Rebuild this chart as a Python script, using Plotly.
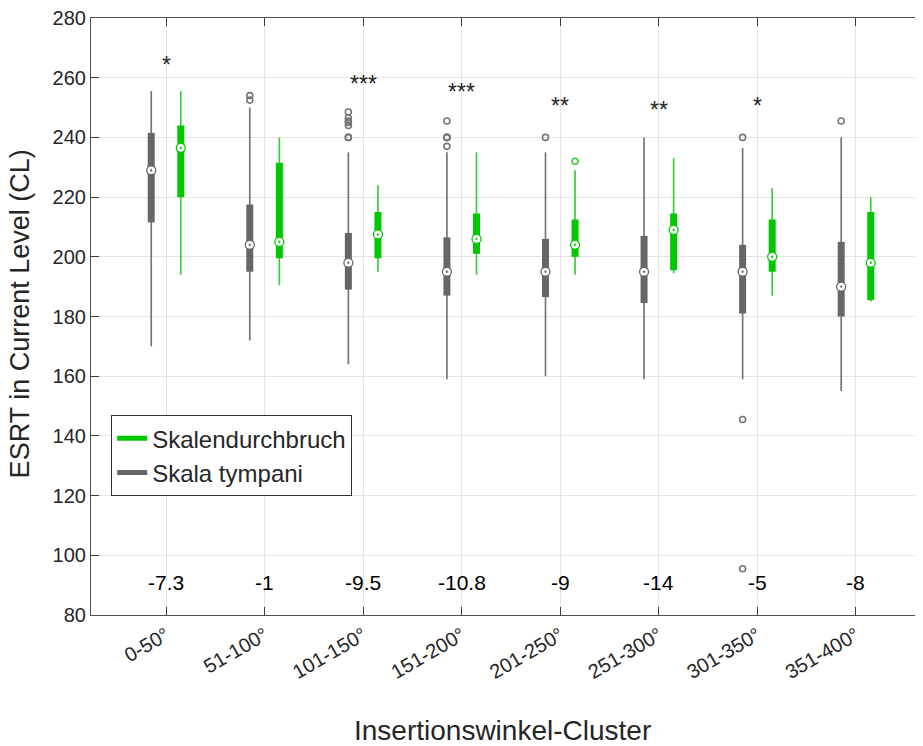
import plotly.graph_objects as go

categories = ["0-50°", "51-100°", "101-150°", "151-200°", "201-250°", "251-300°", "301-350°", "351-400°"]

# Skala tympani (grey)
st_low = [170, 172, 164, 159, 160, 159, 159, 155]
st_q1 = [211.5, 195, 189, 187, 186.5, 184.5, 181, 180]
st_med = [229, 204, 198, 195, 195, 195, 195, 190]
st_q3 = [241.5, 217.5, 208, 206.5, 206, 207, 204, 205]
st_high = [255.5, 250, 235, 235, 235, 240, 236.5, 240]
st_outliers = [[], [254, 252.5], [248.5, 246.5, 245.5, 245, 244, 240, 240], [245.5, 240, 240, 240, 237],
               [240], [], [240, 145.5, 95.5], [245.5]]

# Skalendurchbruch (green)
sd_low = [194, 190.5, 195, 194, 194, 194.5, 187, 185]
sd_q1 = [220, 199.5, 199.5, 201, 200, 195.5, 195, 185.5]
sd_med = [236.5, 205, 207.5, 206, 204, 209, 200, 198]
sd_q3 = [244, 231.5, 215, 214.5, 212.5, 214.5, 212.5, 215]
sd_high = [255.5, 240, 224, 235, 229, 233, 223, 220]
sd_outliers = [[], [], [], [], [232], [], [], []]

differences = ["-7.3", "-1", "-9.5", "-10.8", "-9", "-14", "-5", "-8"]
diff_level = 91
stars = ["*", "", "***", "***", "**", "**", "*", ""]
star_level = [266, None, 259.6, 257, 252.2, 251, 252.2, None]

GREY = "rgb(102,102,102)"
GREY_W = "rgb(118,118,118)"
GREEN = "rgb(0,200,0)"
GREEN_W = "rgb(60,205,60)"
FONT = "Liberation Sans, Arial, sans-serif"
TXT = "rgb(38,38,38)"

OFF = 0.15
fig = go.Figure()


def add_series(low, q1, med, q3, high, outl, offset, col, wcol, name):
    xs = [i + 1 + offset for i in range(len(low))]
    wx, wy, bx, by = [], [], [], []
    for x, lo, a, b, hi in zip(xs, low, q1, q3, high):
        wx += [x, x, None]
        wy += [lo, hi, None]
        bx += [x, x, None]
        by += [a, b, None]
    fig.add_trace(go.Scatter(x=wx, y=wy, mode="lines", line=dict(color=wcol, width=1.7),
                             showlegend=False, hoverinfo="skip"))
    fig.add_trace(go.Scatter(x=bx, y=by, mode="lines", line=dict(color=col, width=7),
                             showlegend=False, hoverinfo="skip"))
    ox, oy = [], []
    for x, vals in zip(xs, outl):
        for v in vals:
            ox.append(x)
            oy.append(v)
    fig.add_trace(go.Scatter(x=ox, y=oy, mode="markers",
                             marker=dict(symbol="circle-open", size=6, color=wcol, line=dict(width=1.6)),
                             showlegend=False))
    fig.add_trace(go.Scatter(x=xs, y=med, mode="markers",
                             marker=dict(symbol="circle-dot", size=9, color="white",
                                         line=dict(color=col, width=1.3)),
                             showlegend=False))


add_series(st_low, st_q1, st_med, st_q3, st_high, st_outliers, -OFF, GREY, GREY_W, "Skala tympani")
add_series(sd_low, sd_q1, sd_med, sd_q3, sd_high, sd_outliers, OFF, GREEN, GREEN_W, "Skalendurchbruch")

# legend entries
fig.add_trace(go.Scatter(x=[None], y=[None], mode="lines", line=dict(color=GREEN, width=5), name="Skalendurchbruch"))
fig.add_trace(go.Scatter(x=[None], y=[None], mode="lines", line=dict(color=GREY, width=5), name="Skala tympani"))

for i, d in enumerate(differences):
    fig.add_annotation(x=i + 1, y=diff_level, text=d, showarrow=False, yanchor="middle",
                       font=dict(family=FONT, size=21, color="black"))
for i, (s, lv) in enumerate(zip(stars, star_level)):
    if s:
        fig.add_annotation(x=i + 1, y=lv, text=s, showarrow=False, yanchor="middle", yshift=-5,
                           font=dict(family=FONT, size=23, color=TXT))

# axis titles
fig.add_annotation(xref="paper", yref="paper", x=0.495, y=-0.193, text="Insertionswinkel-Cluster",
                   showarrow=False, xanchor="center", yanchor="middle",
                   font=dict(family=FONT, size=28, color=TXT))
fig.add_annotation(xref="paper", yref="paper", x=-0.0855, y=0.505, text="ESRT in Current Level (CL)",
                   showarrow=False, xanchor="center", yanchor="middle", textangle=-90,
                   font=dict(family=FONT, size=27, color=TXT))

axis_common = dict(showline=True, linecolor="rgb(80,80,80)", linewidth=1.2, mirror="allticks",
                   ticks="inside", ticklen=8, tickcolor="rgb(60,60,60)", automargin=False,
                   ticklabeloverflow="allow",
                   showgrid=True, gridcolor="rgb(228,228,228)", gridwidth=1, zeroline=False,
                   tickfont=dict(family=FONT, size=20, color=TXT))

fig.update_xaxes(range=[0.239, 8.68], tickvals=list(range(1, 9)), ticktext=categories, tickangle=-30,
                 **axis_common)
fig.update_yaxes(range=[80, 280], tickvals=list(range(80, 281, 20)), **axis_common)

fig.update_layout(
    width=915, height=738,
    margin=dict(l=83, r=0, t=10, b=131, autoexpand=False),
    plot_bgcolor="white", paper_bgcolor="white",
    showlegend=True,
    legend=dict(x=0.024, y=0.335, xanchor="left", yanchor="top", bgcolor="white",
                bordercolor="rgb(50,50,50)", borderwidth=1.2,
                font=dict(family=FONT, size=24, color=TXT), tracegroupgap=0, itemwidth=30),
)

fig.write_html("out.html")
